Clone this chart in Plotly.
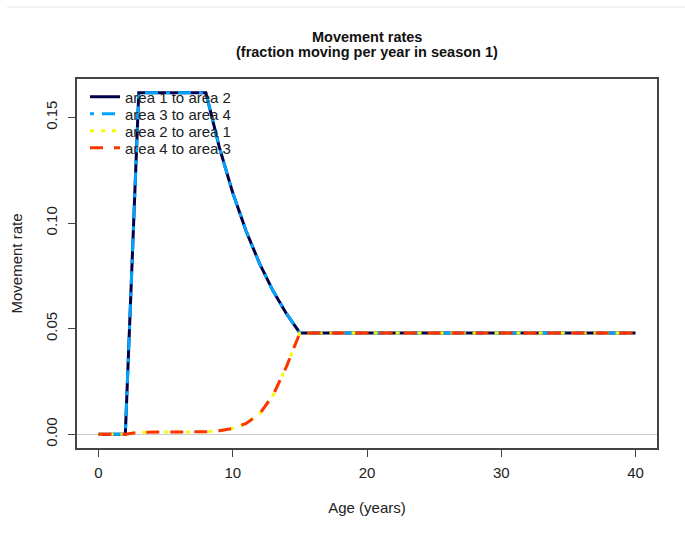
import plotly.graph_objects as go

ages = list(range(0, 41))

# Movement rates
area1_to_area2 = [0, 0, 0, 0.1617, 0.1617, 0.1617, 0.1617, 0.1617, 0.1617,
                  0.1359, 0.1143, 0.0961, 0.0808, 0.0679, 0.0571, 0.048] + [0.048] * 25
area3_to_area4 = [0, 0, 0, 0.1617, 0.1617, 0.1617, 0.1617, 0.1617, 0.1617,
                  0.1359, 0.1143, 0.0961, 0.0808, 0.0679, 0.0571, 0.048] + [0.048] * 25
area2_to_area1 = [0, 0, 0, 0.0010, 0.0010, 0.0010, 0.0010, 0.0010, 0.0012,
                  0.0017, 0.0028, 0.0052, 0.0097, 0.0185, 0.0320, 0.048] + [0.048] * 25
area4_to_area3 = [0, 0, 0, 0.0010, 0.0010, 0.0010, 0.0010, 0.0010, 0.0012,
                  0.0017, 0.0028, 0.0052, 0.0097, 0.0185, 0.0320, 0.048] + [0.048] * 25

series_names = ["area 1 to area 2", "area 3 to area 4", "area 2 to area 1", "area 4 to area 3"]
series_vals = [area1_to_area2, area3_to_area4, area2_to_area1, area4_to_area3]
colors = ["#00004A", "#00A4FF", "#F6F906", "#FF3300"]
dashes = ["solid", "4px,8px,13px,8px", "4px,7px", "13px,11px"]

x_ticks = [0, 10, 20, 30, 40]
y_ticks = [0.00, 0.05, 0.10, 0.15]
y_tick_labels = ["0.00", "0.05", "0.10", "0.15"]

title_lines = ["Movement rates", "(fraction moving per year in season 1)"]

FONT = "Liberation Sans, Arial, sans-serif"
FS = 15

# plot area in pixels
L, R, T, B = 77, 657, 79, 448
PH = B - T

def py(px):
    return (B - px) / PH

fig = go.Figure()
legend_names = ["legend", "legend2", "legend3", "legend4"]
for i, (name, vals, c, d) in enumerate(zip(series_names, series_vals, colors, dashes)):
    fig.add_trace(go.Scatter(x=ages, y=vals, mode="lines", name=name,
                             legend=legend_names[i],
                             line=dict(color=c, width=3, dash=d)))

ymax_data = 0.1617
legend_rows = [97, 114, 131, 148]
layout_legends = {}
for i, ln in enumerate(legend_names):
    layout_legends[ln] = dict(x=8 / (R - L), y=py(legend_rows[i]), xanchor="left", yanchor="middle",
                              bgcolor="rgba(0,0,0,0)", borderwidth=0,
                              font=dict(family=FONT, size=FS, color="#222222"),
                              itemwidth=30)

fig.update_layout(
    width=685, height=534,
    margin=dict(l=L, r=685 - R, t=T, b=534 - B),
    paper_bgcolor="white", plot_bgcolor="white",
    font=dict(family=FONT, size=FS, color="#222222"),
    showlegend=True,
    xaxis=dict(range=[-1.6, 41.6], tickvals=x_ticks, ticks="outside", ticklen=7,
               tickcolor="#444444", showline=True, mirror=True, linecolor="#444444",
               linewidth=1.5, showgrid=False, zeroline=False,
               ticklabelstandoff=3,
               title=dict(text="Age (years)", standoff=23,
                          font=dict(family=FONT, size=FS, color="#222222"))),
    yaxis=dict(range=[-0.04 * ymax_data, 1.04 * ymax_data], tickvals=y_ticks,
               ticktext=y_tick_labels, tickangle=-90,
               ticks="outside", ticklen=7, tickcolor="#444444",
               showline=True, mirror=True, linecolor="#444444", linewidth=1.5,
               showgrid=False, zeroline=True, zerolinecolor="#CCCCCC", zerolinewidth=1,
               ticklabelstandoff=5,
               title=dict(text="Movement rate", standoff=17,
                          font=dict(family=FONT, size=FS, color="#222222"))),
    **layout_legends,
)

# two-line bold title
for txt, ypx in zip(title_lines, [37, 52]):
    fig.add_annotation(text=f"<b>{txt}</b>", xref="paper", yref="paper",
                       x=0.5, y=py(ypx), xanchor="center", yanchor="middle",
                       showarrow=False, font=dict(family=FONT, size=14.5, color="#111111"))

# faint separator line at the very top of the image
fig.add_shape(type="line", xref="paper", yref="paper",
              x0=(7 - L) / (R - L), x1=(685 - L) / (R - L),
              y0=py(7), y1=py(7),
              line=dict(color="#E4E4E4", width=1))

fig.write_html("out.html")
